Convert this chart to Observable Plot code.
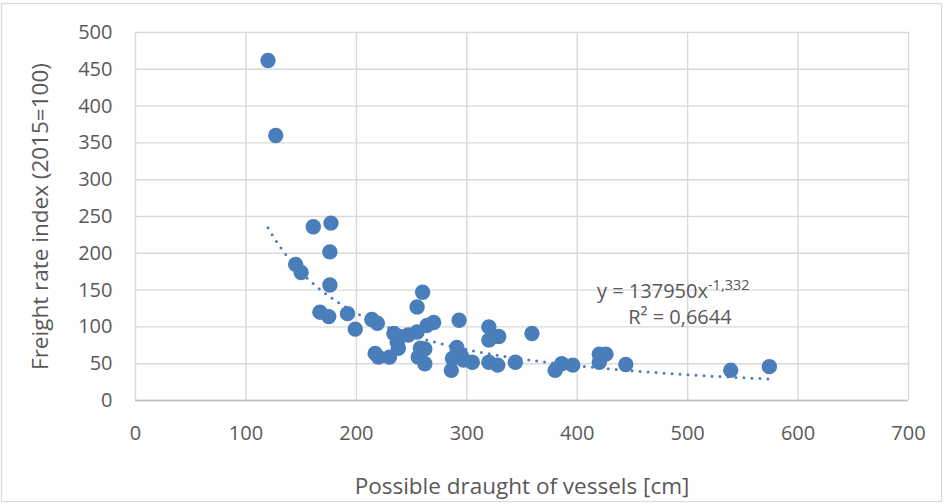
<!DOCTYPE html>
<html>
<head>
<meta charset="utf-8">
<script src="https://cdn.jsdelivr.net/npm/d3@7"></script>
<script src="https://cdn.jsdelivr.net/npm/@observablehq/plot@0.6"></script>
<style>
  html, body { margin: 0; padding: 0; background: #fff; }
  #chart { width: 944px; height: 504px; }
</style>
</head>
<body>
<div id="chart"></div>
<script>
// Possible draught of vessels [cm]
const draught = [120, 127, 161, 177, 176, 176, 145, 150, 167, 175, 192, 199, 214, 219, 217, 220, 230, 234, 237, 238, 239, 247, 255, 264, 270, 255, 260, 258, 256, 262, 293, 291, 287, 286, 297, 305, 320, 329, 320, 359, 320, 328, 344, 380, 386, 396, 420, 426, 420, 444, 539, 574, 262, 295];
// Freight rate index (2015=100)
const freight = [462, 360, 236, 241, 202, 157, 185, 174, 120, 114, 118, 97, 110, 105, 64, 59, 59, 91, 79, 71, 87, 89, 93, 102, 106, 127, 147, 71, 59, 50, 109, 72, 57, 41, 55, 52, 100, 87, 82, 91, 52, 48, 52, 41, 50, 48, 63, 63, 52, 49, 41, 46, 70, 61];

const xTicks = [0, 100, 200, 300, 400, 500, 600, 700];
const yTicks = [0, 50, 100, 150, 200, 250, 300, 350, 400, 450, 500];

// Trendline as displayed on the chart: y = 137950 x^-1.332
const trendA = 137950, trendB = -1.332;
const trendRange = [120, 573];
const equationMain = "y = 137950x";
const equationExp = "-1,332";
const rSquared = "R² = 0,6644";

const xLabel = "Possible draught of vessels [cm]";
const yLabel = "Freight rate index (2015=100)";

const points = draught.map((d, i) => ({x: d, y: freight[i]}));
const trend = d3.range(trendRange[0], trendRange[1] + 0.001, (trendRange[1] - trendRange[0]) / 200)
  .map(x => ({x, y: trendA * Math.pow(x, trendB)}));

const font = "'Open Sans', Lato, sans-serif";
const gray = "#595959";
const blue = "#4a7ebb";

const plot = Plot.plot({
  width: 944,
  height: 504,
  marginLeft: 135,
  marginRight: 36,
  marginTop: 32,
  marginBottom: 104,
  style: {fontFamily: font, background: "white", overflow: "visible"},
  x: {domain: [0, 700]},
  y: {domain: [0, 500]},
  marks: [
    Plot.gridX(xTicks, {stroke: "#d9d9d9", strokeOpacity: 1, strokeWidth: 1.4}),
    Plot.gridY(yTicks, {stroke: "#d9d9d9", strokeOpacity: 1, strokeWidth: 1.4}),
    Plot.ruleY([0], {stroke: "#bfbfbf", strokeWidth: 1.4}),
    Plot.axisX(xTicks, {tickSize: 0, tickPadding: 25, fontSize: 20, fill: gray, label: null}),
    Plot.axisY(yTicks, {tickSize: 0, tickPadding: 23, fontSize: 20, fill: gray, label: null}),
    Plot.line(trend, {x: "x", y: "y", stroke: blue, strokeWidth: 3, strokeDasharray: "0 8", strokeLinecap: "round"}),
    Plot.dot(points, {x: "x", y: "y", r: 7.7, fill: blue}),
    Plot.text([equationMain], {x: 487, y: 148.5, text: d => d, fontSize: 20, fill: gray, textAnchor: "middle", lineAnchor: "middle"}),
    Plot.text([rSquared], {x: 493, y: 113, text: d => d, fontSize: 20, fill: gray, textAnchor: "middle", lineAnchor: "middle"}),
    Plot.text([xLabel], {frameAnchor: "bottom", dy: 86, text: d => d, fontSize: 22.5, fill: gray, textAnchor: "middle", lineAnchor: "middle"}),
    Plot.text([yLabel], {frameAnchor: "left", dx: -95, rotate: -90, text: d => d, fontSize: 22.5, fill: gray, textAnchor: "middle", lineAnchor: "middle"})
  ]
});

// superscript exponent on the equation
d3.select(plot).selectAll("text").each(function() {
  if (this.textContent === equationMain) {
    d3.select(this).append("tspan").attr("dy", "-0.55em").attr("font-size", 14.5).text(equationExp);
  }
});
// outer chart border
d3.select(plot).append("rect")
  .attr("x", 1.5).attr("y", 3.5).attr("width", 940).attr("height", 498)
  .attr("fill", "none").attr("stroke", "#d9d9d9").attr("stroke-width", 1.2);

document.getElementById("chart").appendChild(plot);
</script>
</body>
</html>
